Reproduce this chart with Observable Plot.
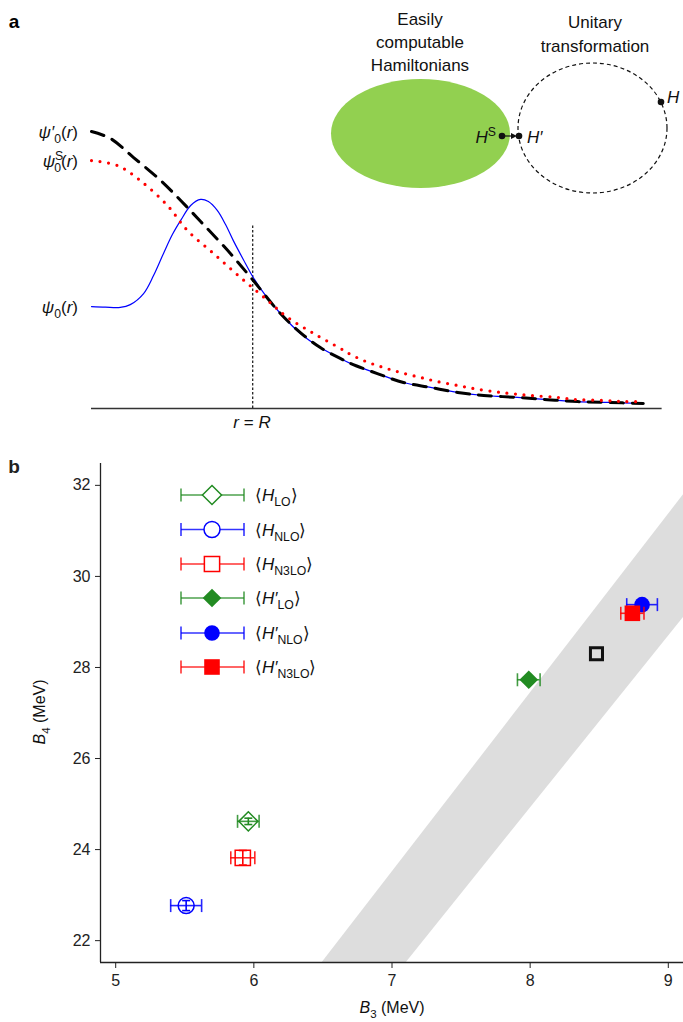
<!DOCTYPE html>
<html><head><meta charset="utf-8">
<script src="https://cdn.jsdelivr.net/npm/d3@7"></script>
<script src="https://cdn.jsdelivr.net/npm/@observablehq/plot@0.6"></script>
<style>
body{margin:0;background:#fff;width:683px;height:1022px;overflow:hidden;font-family:"Liberation Sans",Arial,Helvetica,sans-serif}
svg{display:block}
</style></head><body><div id="a"></div><div id="b"></div>
<script>
// ---------- Panel a: wavefunctions (arbitrary units) ----------
const rBlue = [0,0.25,0.52,0.70,0.94,1.12,1.30,1.46,1.61,1.79,1.97,2.11,2.27,2.42,2.56,2.74,2.92,3.14,3.41,3.77,4.13,4.49,4.68,5.16,5.63,6.12,6.61,7.08,7.69,8.23,8.77,9.31,9.96];
const psiBlue = [0.368,0.366,0.365,0.375,0.415,0.480,0.560,0.628,0.679,0.733,0.755,0.747,0.715,0.664,0.606,0.538,0.473,0.408,0.343,0.271,0.220,0.181,0.162,0.126,0.094,0.076,0.058,0.047,0.040,0.032,0.025,0.022,0.018];
const rPrime = [0,0.34,0.76,1.25,1.61,1.97,2.46,2.92,3.41,3.77,4.13,4.49,4.68,5.16,5.63,6.12,6.61,7.08,7.69,8.23,8.77,9.31,9.96];
const psiPrime = [1.00,0.975,0.906,0.823,0.751,0.675,0.570,0.462,0.343,0.274,0.220,0.181,0.162,0.126,0.094,0.076,0.058,0.047,0.040,0.032,0.025,0.022,0.018];
const rS = [0,0.47,0.88,1.37,1.73,2.20,2.69,3.18,3.54,4.01,4.49,4.64,4.95,5.27,5.58,5.94,6.25,6.61,6.90,7.26,7.56,7.92,8.41,8.77,9.24,9.60,9.96];
const psiS = [0.895,0.877,0.823,0.733,0.643,0.560,0.473,0.390,0.329,0.271,0.217,0.199,0.170,0.148,0.130,0.112,0.097,0.083,0.072,0.061,0.054,0.047,0.040,0.032,0.029,0.025,0.025];
const axisR = [0, 10.3];
const cutR = 2.91;
const cutTop = 0.66;

// ---------- Panel b: binding energies ----------
const orders = ["LO","NLO","N3LO","LO","NLO","N3LO"];
const primed = [false,false,false,true,true,true];
const B3 = [5.96, 5.51, 5.92, 7.99, 8.81, 8.74];
const B3err = [0.078, 0.112, 0.087, 0.082, 0.111, 0.084];
const B4 = [24.62, 22.77, 23.82, 27.73, 29.38, 29.19];
const B4err = [0.07, 0.11, 0.16, 0.04, 0.04, 0.04];
const colors = ["#228B22","#0000FF","#FF0000","#228B22","#0000FF","#FF0000"];
const symbols = ["diamond2","circle","square","diamond2","circle","square"];
const expB3 = [8.48];
const expB4 = [28.30];
// Tjon band edges
const bandB4 = [21.52, 32.48];
const bandB3Left = [6.495, 9.285];
const bandB3Right = [7.104, 10.005];
const xTicks = [5,6,7,8,9];
const yTicks = [22,24,26,28,30,32];
const xDomain = [4.89, 9.11];
const yDomain = [21.52, 32.48];

const FONT = '"Liberation Sans",Arial,Helvetica,sans-serif';

function rich(sel, x, y, parts, o = {}) {
  const size = o.size || 16;
  const t = sel.append("text").attr("x", x).attr("y", y)
    .attr("text-anchor", o.anchor || "start").attr("font-size", size)
    .attr("font-family", FONT).attr("fill", o.fill || "#111");
  if (o.transform) t.attr("transform", o.transform);
  let shift = 0;
  for (const p of parts) {
    const s = t.append("tspan").text(p.t);
    if (p.i) s.attr("font-style", "italic");
    let target = 0;
    if (p.sub) { target = size * 0.32; s.attr("font-size", size * 0.72); }
    if (p.sup) { target = -size * 0.42; s.attr("font-size", size * 0.72); }
    if (target !== shift) { s.attr("dy", target - shift); shift = target; }
    if (p.dx) s.attr("dx", p.dx);
  }
  return t;
}

// ---------- Panel a ----------
const lineB = rBlue.map((r, i) => ({r, p: psiBlue[i]}));
const lineP = rPrime.map((r, i) => ({r, p: psiPrime[i]}));
const lineS = rS.map((r, i) => ({r, p: psiS[i]}));

const plotA = Plot.plot({
  width: 683, height: 450,
  marginLeft: 91, marginRight: 38, marginTop: 131, marginBottom: 42,
  x: {domain: [0, 10], axis: null},
  y: {domain: [0, 1], axis: null},
  marks: [
    Plot.ruleY([0], {x1: axisR[0], x2: axisR[1], stroke: "#333", strokeWidth: 1.6}),
    Plot.ruleX([cutR], {y1: 0, y2: cutTop, stroke: "#111", strokeWidth: 1.2, strokeDasharray: "2.5,2"}),
    Plot.line(lineB, {x: "r", y: "p", stroke: "#0000FF", strokeWidth: 1.2, curve: "catmull-rom"}),
    Plot.line(lineP, {x: "r", y: "p", stroke: "#000", strokeWidth: 3, strokeDasharray: "13,9", curve: "catmull-rom"}),
    Plot.line(lineS, {x: "r", y: "p", stroke: "#FF0000", strokeWidth: 3.2, strokeDasharray: "0,8.6", strokeLinecap: "round", curve: "catmull-rom"})
  ]
});
document.getElementById("a").appendChild(plotA);
const sa = d3.select(plotA);
sa.append("text").attr("x", 14).attr("y", 28).attr("font-size", 19).attr("font-weight", "bold")
  .attr("font-family", FONT).text("a");
rich(sa, 78, 138, [{t:"ψ′", i:true},{t:"0", sub:true},{t:"(", },{t:"r", i:true},{t:")"}], {anchor:"end", size:17});
rich(sa, 78, 167, [{t:"ψ", i:true},{t:"S", sup:true},{t:"0", sub:true, dx:-9},{t:"("},{t:"r", i:true},{t:")"}], {anchor:"end", size:17});
rich(sa, 78, 313, [{t:"ψ", i:true},{t:"0", sub:true},{t:"("},{t:"r", i:true},{t:")"}], {anchor:"end", size:17});
rich(sa, 252, 428, [{t:"r", i:true},{t:" = "},{t:"R", i:true}], {anchor:"middle", size:17});

// schematic
sa.append("ellipse").attr("cx", 420.5).attr("cy", 133.5).attr("rx", 89.5).attr("ry", 54.5).attr("fill", "#92D050");
sa.append("ellipse").attr("cx", 592.5).attr("cy", 128).attr("rx", 74.5).attr("ry", 65)
  .attr("fill", "none").attr("stroke", "#111").attr("stroke-width", 1.2).attr("stroke-dasharray", "4,3");
[["Easily",25],["computable",48],["Hamiltonians",71]].forEach(([t,y]) =>
  sa.append("text").attr("x", 420).attr("y", y).attr("text-anchor","middle").attr("font-size",17).attr("font-family",FONT).attr("fill","#111").text(t));
[["Unitary",28],["transformation",52]].forEach(([t,y]) =>
  sa.append("text").attr("x", 595).attr("y", y).attr("text-anchor","middle").attr("font-size",17).attr("font-family",FONT).attr("fill","#111").text(t));
sa.append("line").attr("x1", 503).attr("y1", 136).attr("x2", 513).attr("y2", 136).attr("stroke", "#111").attr("stroke-width", 1.2);
sa.append("path").attr("d", "M517,136 L511,133 L511,139 Z").attr("fill", "#111");
[[502,136],[519,136],[661,102]].forEach(([x,y]) => sa.append("circle").attr("cx",x).attr("cy",y).attr("r",3.3).attr("fill","#111"));
rich(sa, 496, 143, [{t:"H", i:true},{t:"S", sup:true}], {anchor:"end", size:17});
rich(sa, 527, 143, [{t:"H′", i:true}], {size:17});
rich(sa, 667, 103, [{t:"H", i:true}], {size:17});

// ---------- Panel b ----------
const pts = orders.map((o, i) => ({o, primed: primed[i], b3: B3[i], e3: B3err[i], b4: B4[i], e4: B4err[i], color: colors[i], sym: symbols[i]}));
const band = bandB4.map((y, i) => ({y, l: bandB3Left[i], r: bandB3Right[i]}));
const vcap = {draw(ctx, size){ const h = Math.sqrt(size/Math.PI); ctx.moveTo(0,-h); ctx.lineTo(0,h); }};
const hcap = {draw(ctx, size){ const h = Math.sqrt(size/Math.PI); ctx.moveTo(-h,0); ctx.lineTo(h,0); }};
const symR = {diamond2: 8.6, circle: 8, square: 8.6};
const symRFilled = {diamond2: 8.4, circle: 7.8, square: 8.8};

const pointMarks = pts.flatMap(p => {
  const d = [p];
  const m = [
    Plot.ruleY(d, {y: "b4", x1: q => q.b3 - q.e3, x2: q => q.b3 + q.e3, stroke: p.color, strokeWidth: 1.6, strokeOpacity: 0.85}),
    Plot.dot(d, {x: q => q.b3 - q.e3, y: "b4", symbol: vcap, r: 6.5, stroke: p.color, fill: "none", strokeWidth: 1.6, strokeOpacity: 0.85}),
    Plot.dot(d, {x: q => q.b3 + q.e3, y: "b4", symbol: vcap, r: 6.5, stroke: p.color, fill: "none", strokeWidth: 1.6, strokeOpacity: 0.85})
  ];
  if (!p.primed) {
    m.push(
      Plot.ruleX(d, {x: "b3", y1: q => q.b4 - q.e4, y2: q => q.b4 + q.e4, stroke: p.color, strokeWidth: 1.6}),
      Plot.dot(d, {x: "b3", y: q => q.b4 - q.e4, symbol: hcap, r: 4, stroke: p.color, fill: "none", strokeWidth: 1.6}),
      Plot.dot(d, {x: "b3", y: q => q.b4 + q.e4, symbol: hcap, r: 4, stroke: p.color, fill: "none", strokeWidth: 1.6}),
      Plot.dot(d, {x: "b3", y: "b4", symbol: p.sym, r: symR[p.sym], stroke: p.color, fill: "none", strokeWidth: 1.5})
    );
  } else {
    m.push(Plot.dot(d, {x: "b3", y: "b4", symbol: p.sym, r: symRFilled[p.sym], fill: p.color, stroke: "none"}));
  }
  return m;
});

const plotB = Plot.plot({
  width: 683, height: 572,
  marginLeft: 100, marginRight: 0, marginTop: 13, marginBottom: 60,
  x: {domain: xDomain, label: null},
  y: {domain: yDomain, label: null},
  style: {fontSize: "16px", fontFamily: FONT, color: "#222", background: "transparent"},
  marks: [
    Plot.areaX(band, {y: "y", x1: "l", x2: "r", fill: "#DDDDDD", clip: true}),
    Plot.ruleX([xDomain[0]], {stroke: "#222", strokeWidth: 1.3}),
    Plot.ruleY([yDomain[0]], {stroke: "#222", strokeWidth: 1.3}),
    Plot.axisX({ticks: xTicks, tickFormat: d => String(d), tickSize: 6, tickPadding: 6, label: null, fontSize: 16}),
    Plot.axisY({ticks: yTicks, tickFormat: d => String(d), tickSize: 5, tickPadding: 5, label: null, fontSize: 16}),
    Plot.dot(expB3.map((b, i) => ({b3: b, b4: expB4[i]})), {x: "b3", y: "b4", symbol: "square", r: 6.8, stroke: "#111", strokeWidth: 3, fill: "none"}),
    ...pointMarks
  ]
});
document.getElementById("b").appendChild(plotB);
const sb = d3.select(plotB);
sb.append("text").attr("x", 14).attr("y", 23).attr("font-size", 19).attr("font-weight", "bold")
  .attr("font-family", FONT).text("b");
rich(sb, 0, 0, [{t:"B", i:true},{t:"4", sub:true},{t:" (MeV)"}], {anchor:"middle", size:16, transform:"translate(45,262) rotate(-90)"});
rich(sb, 392, 563, [{t:"B", i:true},{t:"3", sub:true},{t:" (MeV)"}], {anchor:"middle", size:16});

// legend
const legRows = [45, 79.5, 114, 148, 183, 217];
const symMap = {diamond2: d3.symbolDiamond2, circle: d3.symbolCircle, square: d3.symbolSquare};
pts.forEach((p, i) => {
  const y = legRows[i];
  const g = sb.append("g");
  g.append("line").attr("x1", 181).attr("x2", 244).attr("y1", y).attr("y2", y).attr("stroke", p.color).attr("stroke-width", 1.6).attr("stroke-opacity", 0.8);
  [181, 244].forEach(x => g.append("line").attr("x1", x).attr("x2", x).attr("y1", y - 6.5).attr("y2", y + 6.5).attr("stroke", p.color).attr("stroke-width", 1.6).attr("stroke-opacity", 0.8));
  const r = p.primed ? symRFilled[p.sym] : symR[p.sym];
  const path = d3.symbol().type(symMap[p.sym]).size(Math.PI * r * r)();
  const s = g.append("path").attr("d", path).attr("transform", `translate(212,${y})`);
  if (p.primed) s.attr("fill", p.color); else s.attr("fill", "#fff").attr("stroke", p.color).attr("stroke-width", 1.5);
  rich(sb, 255, y + 6, [{t:"⟨"},{t: p.primed ? "H′" : "H", i:true},{t: p.o, sub:true},{t:"⟩"}], {size:17});
});
</script></body></html>
